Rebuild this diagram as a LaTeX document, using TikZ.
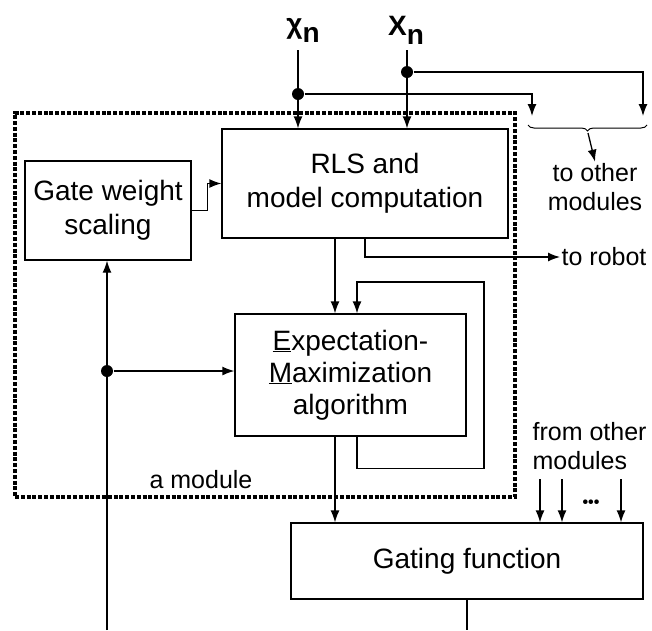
\documentclass[tikz,border=0pt]{standalone}
\usepackage{fontspec}
\setmainfont{Liberation Sans}
\usetikzlibrary{positioning,arrows.meta,decorations.pathreplacing}

\begin{document}
\begin{tikzpicture}[x=1pt,y=-1pt,line width=1.3pt,
        arr/.style={-{Latex[length=12pt,width=9pt]}},
        box/.style={draw,rectangle,align=center,inner sep=2pt,font=\fontsize{28}{34}\selectfont},
        lbl/.style={align=center,inner sep=1pt,font=\fontsize{25}{29}\selectfont},
        inlbl/.style={inner sep=0pt,font=\fontsize{28}{30}\selectfont\bfseries},
        dot/.style={circle,fill,inner sep=0pt,minimum size=12pt},
        modulebox/.style={draw,rectangle,line width=3.5pt,dash pattern=on 4pt off 1.8pt}]
        \useasboundingbox (0,0) rectangle (652,630);
        % the module
        \node[modulebox,minimum width=500pt,minimum height=384pt] (module) at (265,305) {};
        \node[lbl] (modlbl) at (201,480) {a module};
        \node[box,minimum width=166pt,minimum height=99pt] (gws) at (108,210.5) {Gate weight\\scaling};
        \node[box,minimum width=286pt,minimum height=109pt] (rls) at (365,183.5) {RLS and\\model computation};
        \node[box,minimum width=231pt,minimum height=122pt,font=\fontsize{28}{32}\selectfont] (em) at (350.5,375) {\underline{E}xpectation-\\\underline{M}aximization\\algorithm};
        \node[box,minimum width=352pt,minimum height=76pt] (gate) at (467,561) {Gating function};
        % inputs
        \coordinate (chiin) at (298,50);
        \coordinate (xin) at (407,50);
        \node[inlbl] (chi) at (303,30) {χ\raisebox{-9pt}{n}};
        \node[inlbl] (xn) at (406,30) {X\raisebox{-9pt}{n}};
        \draw[arr] (chiin) -- (chiin |- rls.north);
        \draw[arr] (xin) -- (xin |- rls.north);
        \node[dot] (chidot) at (298,94) {};
        \node[dot] (xdot) at (407,72) {};
        \coordinate (chiout) at (532,116);
        \coordinate (xout) at (643,116);
        \draw[arr] (chidot) -| (chiout);
        \draw[arr] (xdot) -| (xout);
        \draw[line width=1pt,decorate,decoration={brace,mirror,amplitude=6pt}] (528,125) -- (647,125);
        \coordinate (brtip) at (588,133);
        \node[lbl] (toother) at (595,187) {to other\\modules};
        \draw[arr] (brtip) -- (toother.north);
        % to robot
        \node[lbl,anchor=west] (robot) at (560,257) {to robot};
        \draw[arr] (rls.south) |- (robot.west);
        % inside the module
        \coordinate (col) at (335,0);
        \coordinate (loop) at (357,0);
        \draw[arr] (gws.east) -- ++(16,0) |- (rls.west);
        \draw[arr] (rls.south -| col) -- (em.north -| col);
        \draw[arr] (em.south -| loop) -- ++(0,32) -| (484,282) -| (em.north -| loop);
        \draw[arr] (em.south -| col) -- (gate.north -| col);
        \coordinate (feed) at (107,630);
        \draw[arr] (feed) -- (feed |- gws.south);
        \node[dot] (emdot) at (107,371) {};
        \draw[arr] (emdot) -- (em.west |- emdot);
        % gating
        \coordinate (gout) at (467,630);
        \draw (gate.south) -- (gout);
        \node[lbl,align=left,anchor=north west] (from) at (531,421) {from other\\modules};
        \foreach \x in {540,562,621}
            \draw[arr] (\x,479) -- (gate.north -| \x,0);
        \node[inner sep=0pt,font=\fontsize{16}{16}\selectfont\bfseries] (dots) at (591,504) {•••};
    \end{tikzpicture}
\end{document}
